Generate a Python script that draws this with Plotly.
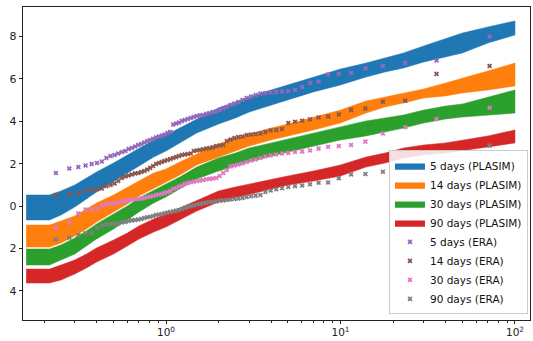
import plotly.graph_objects as go

# ---------------- data ----------------
# return periods (years) sampled along the PLASIM uncertainty bands
band_T = [0.158, 0.215, 0.25, 0.3, 0.35, 0.4, 0.5, 0.6, 0.7, 0.85, 1.0, 1.2, 1.5, 2, 2.5, 3,
          4, 5, 7, 10, 14, 18, 23, 30, 40, 50, 70, 100]

p5_hi = [0.52, 0.52, 0.71, 0.99, 1.32, 1.61, 2.03, 2.41, 2.74, 3.12, 3.35, 3.68, 4.11, 4.63,
         4.91, 5.15, 5.48, 5.72, 6.09, 6.47, 6.75, 6.99, 7.23, 7.56, 7.89, 8.17, 8.46, 8.74]
p5_lo = [-0.66, -0.66, -0.43, -0.05, 0.33, 0.66, 1.13, 1.56, 1.89, 2.31, 2.60, 2.98, 3.45, 3.87,
         4.16, 4.44, 4.77, 5.01, 5.39, 5.72, 6.09, 6.33, 6.52, 6.80, 7.04, 7.23, 7.70, 8.08]

p14_hi = [-0.90, -0.90, -0.71, -0.47, -0.14, 0.14, 0.52, 0.90, 1.18, 1.56, 1.75, 2.08, 2.46, 2.93,
          3.21, 3.40, 3.68, 3.87, 4.20, 4.53, 4.96, 5.15, 5.34, 5.53, 5.81, 6.05, 6.38, 6.75]
p14_lo = [-1.94, -1.94, -1.75, -1.42, -1.09, -0.76, -0.28, 0.09, 0.47, 0.85, 1.13, 1.46, 1.94, 2.31,
          2.60, 2.83, 3.12, 3.31, 3.59, 3.92, 4.39, 4.68, 4.87, 5.10, 5.20, 5.34, 5.48, 5.67]

p30_hi = [-2.03, -2.03, -1.84, -1.51, -1.18, -0.85, -0.38, 0.00, 0.38, 0.76, 1.04, 1.37, 1.84, 2.27,
          2.50, 2.74, 2.98, 3.16, 3.45, 3.73, 4.02, 4.16, 4.30, 4.53, 4.72, 4.82, 5.15, 5.48]
p30_lo = [-2.79, -2.79, -2.55, -2.27, -1.89, -1.56, -1.09, -0.66, -0.28, 0.14, 0.43, 0.80, 1.28, 1.65,
          1.89, 2.08, 2.36, 2.55, 2.83, 3.12, 3.31, 3.50, 3.68, 3.92, 4.11, 4.20, 4.30, 4.39]

p90_hi = [-2.98, -2.98, -2.79, -2.55, -2.27, -1.98, -1.61, -1.28, -0.94, -0.61, -0.38, -0.09, 0.28, 0.71,
          0.90, 1.04, 1.28, 1.42, 1.65, 1.94, 2.31, 2.50, 2.74, 2.88, 2.98, 3.12, 3.31, 3.59]
p90_lo = [-3.64, -3.64, -3.50, -3.21, -2.93, -2.65, -2.27, -1.89, -1.56, -1.23, -0.99, -0.66, -0.24, 0.19,
          0.38, 0.57, 0.80, 0.99, 1.18, 1.42, 1.84, 2.03, 2.27, 2.41, 2.50, 2.60, 2.79, 2.98]

# empirical return periods (years) of the ERA values
era_T = [0.2338, 0.2791, 0.3147, 0.3460, 0.3749, 0.4024, 0.4290, 0.4551, 0.4809, 0.5066,
         0.5323, 0.5581, 0.5842, 0.6106, 0.6375, 0.6649, 0.6928, 0.7213, 0.7506, 0.7807,
         0.8116, 0.8434, 0.8763, 0.9102, 0.9454, 0.9817, 1.0195, 1.0588, 1.0997, 1.1422,
         1.1867, 1.2332, 1.2818, 1.3328, 1.3864, 1.4427, 1.5021, 1.5648, 1.6311, 1.7013,
         1.7759, 1.8553, 1.9400, 2.0306, 2.1277, 2.2321, 2.3446, 2.4663, 2.5985, 2.7424,
         2.8999, 3.0729, 3.2640, 3.4761, 3.7130, 3.9791, 4.2806, 4.6249, 5.0218, 5.4848,
         6.0317, 6.6875, 7.4889, 8.4903, 9.7772, 11.493, 13.895, 17.494, 23.496, 35.497,
         71.499]

era5 = [1.56, 1.77, 1.84, 1.91, 1.98, 2.03, 2.10, 2.27, 2.36, 2.41, 2.48, 2.55, 2.60, 2.69, 2.74,
        2.81, 2.88, 2.93, 3.00, 3.07, 3.12, 3.17, 3.24, 3.28, 3.33, 3.38, 3.45, 3.50, 3.85, 3.90,
        3.94, 4.02, 4.06, 4.11, 4.16, 4.20, 4.25, 4.28, 4.30, 4.35, 4.39, 4.44, 4.46, 4.54, 4.61,
        4.68, 4.77, 4.84, 4.91, 5.01, 5.10, 5.17, 5.24, 5.31, 5.34, 5.36, 5.39, 5.41, 5.43, 5.48,
        5.62, 5.81, 5.88, 6.21, 6.24, 6.28, 6.50, 6.61, 6.76, 6.87, 8.01]
era14 = [0.52, 0.57, 0.60, 0.71, 0.74, 0.79, 0.83, 0.94, 0.99, 1.06, 1.18, 1.32, 1.39, 1.44, 1.49,
         1.54, 1.56, 1.61, 1.65, 1.72, 1.80, 1.89, 1.98, 2.03, 2.08, 2.13, 2.17, 2.22, 2.27, 2.31,
         2.36, 2.41, 2.43, 2.46, 2.48, 2.60, 2.62, 2.65, 2.68, 2.72, 2.74, 2.77, 2.83, 2.86, 2.88,
         3.07, 3.14, 3.21, 3.26, 3.28, 3.35, 3.38, 3.40, 3.43, 3.50, 3.57, 3.59, 3.64, 3.92, 3.98,
         4.03, 4.10, 4.18, 4.23, 4.32, 4.54, 4.61, 4.93, 4.97, 6.24, 6.61]
era30 = [-1.02, -0.80, -0.35, -0.17, -0.16, -0.12, 0.02, 0.09, 0.12, 0.13, 0.17, 0.20, 0.24, 0.27,
         0.30, 0.32, 0.33, 0.35, 0.38, 0.41, 0.44, 0.47, 0.52, 0.54, 0.57, 0.61, 0.66, 0.71, 0.80,
         0.85, 0.92, 0.97, 1.04, 1.09, 1.12, 1.15, 1.18, 1.20, 1.23, 1.26, 1.28, 1.30, 1.32, 1.42,
         1.56, 1.70, 1.87, 1.91, 1.96, 2.01, 2.08, 2.15, 2.20, 2.27, 2.34, 2.39, 2.43, 2.48, 2.51,
         2.55, 2.57, 2.62, 2.71, 2.80, 2.83, 2.88, 3.04, 3.43, 3.72, 4.11, 4.64]
era90 = [-1.57, -1.50, -1.38, -1.29, -1.28, -1.04, -0.92, -0.88, -0.86, -0.85, -0.83, -0.78, -0.75,
         -0.71, -0.68, -0.66, -0.64, -0.61, -0.57, -0.53, -0.51, -0.47, -0.43, -0.40, -0.38, -0.34,
         -0.31, -0.28, -0.25, -0.22, -0.19, -0.14, -0.09, -0.05, -0.01, 0.02, 0.07, 0.09, 0.13, 0.16,
         0.19, 0.20, 0.22, 0.25, 0.26, 0.28, 0.31, 0.33, 0.35, 0.38, 0.43, 0.46, 0.49, 0.52, 0.66,
         0.73, 0.79, 0.84, 0.90, 0.94, 0.97, 1.03, 1.10, 1.11, 1.31, 1.49, 1.51, 1.62, 1.83, 1.89,
         2.85]

band_names = ["5 days (PLASIM)", "14 days (PLASIM)", "30 days (PLASIM)", "90 days (PLASIM)"]
band_colors = ["#1f77b4", "#ff7f0e", "#2ca02c", "#d62728"]
bands = [(p5_lo, p5_hi), (p14_lo, p14_hi), (p30_lo, p30_hi), (p90_lo, p90_hi)]

era_names = ["5 days (ERA)", "14 days (ERA)", "30 days (ERA)", "90 days (ERA)"]
era_colors = ["#9467bd", "#8c564b", "#e377c2", "#7f7f7f"]
era_series = [era5, era14, era30, era90]

y_tickvals = [-4, -2, 0, 2, 4, 6, 8]
y_ticktext = ["4", "2", "0", "2", "4", "6", "8"]
x_tickvals = [1, 10, 100]
x_ticktext = ["10<sup>0</sup>", "10<sup>1</sup>", "10<sup>2</sup>"]
x_minor = [0.2, 0.3, 0.4, 0.5, 0.6, 0.7, 0.8, 0.9, 2, 3, 4, 5, 6, 7, 8, 9,
           20, 30, 40, 50, 60, 70, 80, 90]

# ---------------- figure ----------------
fig = go.Figure()
for (lo, hi), name, col in zip(bands, band_names, band_colors):
    fig.add_trace(go.Scatter(
        x=band_T + band_T[::-1], y=hi + lo[::-1],
        fill="toself", fillcolor=col, mode="lines",
        line=dict(width=0.5, color=col), name=name, hoverinfo="skip"))

for ys, name, col in zip(era_series, era_names, era_colors):
    fig.add_trace(go.Scatter(
        x=era_T, y=ys, mode="markers", name=name,
        marker=dict(symbol="x", size=4.5, color=col, line=dict(width=0))))

fig.update_layout(
    width=533, height=341,
    margin=dict(l=23, r=3, t=7, b=21, autoexpand=False),
    paper_bgcolor="white", plot_bgcolor="white",
    font=dict(family="DejaVu Sans", size=10.5, color="#222222"),
    showlegend=True,
    legend=dict(x=0.996, y=0.018, xanchor="right", yanchor="bottom",
                bgcolor="rgba(255,255,255,0.85)", bordercolor="#cccccc", borderwidth=1,
                font=dict(size=10.5, color="#111111"), tracegroupgap=0,
                itemwidth=30),
)
fig.update_xaxes(
    type="log", range=[-0.8195, 2.086], automargin=False,
    tickmode="array", tickvals=x_tickvals, ticktext=x_ticktext,
    ticks="outside", ticklen=3.5, tickwidth=0.8, tickcolor="#222222",
    ticklabelstandoff=-1,
    showgrid=False, zeroline=False,
    showline=True, linecolor="#222222", linewidth=0.8, mirror=True,
    minor=dict(tickmode="array", tickvals=x_minor, ticks="outside", ticklen=2,
               tickwidth=0.6, tickcolor="#222222", showgrid=False),
)
fig.update_yaxes(
    range=[-5.385, 9.40], automargin=False,
    tickmode="array", tickvals=y_tickvals, ticktext=y_ticktext,
    ticks="outside", ticklen=3.5, tickwidth=0.8, tickcolor="#222222",
    tickfont=dict(size=11),
    showgrid=False, zeroline=False,
    showline=True, linecolor="#222222", linewidth=0.8, mirror=True,
)

fig.write_html("out.html", config={"displayModeBar": False},
               post_script="document.body.style.margin='0';document.body.style.padding='0';")
